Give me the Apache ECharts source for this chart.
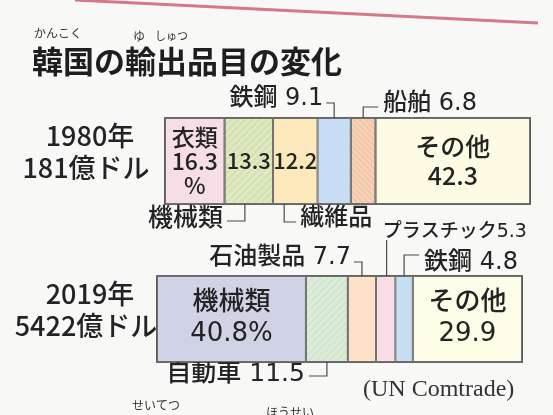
<!DOCTYPE html>
<html><head><meta charset="utf-8">
<script src="https://cdn.jsdelivr.net/npm/echarts@6/dist/echarts.min.js"></script>
<style>html,body{margin:0;padding:0;background:#f8f8f6}#c{width:553px;height:415px}</style>
</head><body><div id="c"></div>
<script>
// ---- data ----
const years = ['1980年', '2019年'];
const totals = ['181億ドル', '5422億ドル'];
const cats1980 = ['衣類', '機械類', '繊維品', '鉄鋼', '船舶', 'その他'];
const vals1980 = [16.3, 13.3, 12.2, 9.1, 6.8, 42.3];
const cats2019 = ['機械類', '自動車', '石油製品', 'プラスチック', '鉄鋼', 'その他'];
const vals2019 = [40.8, 11.5, 7.7, 5.3, 4.8, 29.9];
const titleText = '韓国の輸出品目の変化';
const sourceText = '(UN Comtrade)';

// ---- styles / layout ----
const JP = '"Noto Sans CJK JP","Noto Sans",sans-serif';
const MIX = '"DejaVu Sans","Noto Sans CJK JP",sans-serif';
const INK = '#232323';
const W = '500';
const colors1980 = ['#f6dde6', '#d6e4b4', '#fce8ba', '#c6ddf3', '#f3c8a9', '#fdfbe4'];
const colors2019 = ['#d0d3e6', '#d4e7d1', '#fde2c9', '#f8dde6', '#c8def3', '#fdfce6'];
const hatch = {symbol: 'rect', symbolSize: 1, color: 'rgba(255,255,255,0.45)', dashArrayX: [[1, 0]], dashArrayY: [1, 4], rotation: -Math.PI / 4};
const dots = {symbol: 'rect', symbolSize: 1, color: 'rgba(255,255,255,0.35)', dashArrayX: [[1, 0]], dashArrayY: [1, 3], rotation: Math.PI / 4};
const decals1980 = [null, hatch, null, null, dots, null];
const decals2019 = [null, hatch, null, null, null, null];
// inside label styles: [mode, fontSize, lineHeight, fontFamily]
const inside1980 = [['nameValPctStack', 23, 24, JP], ['val', 22, 26, JP], ['val', 22, 26, JP], null, null, ['nameVal', 25, 29, JP]];
const inside2019 = [['nameValPct', 26, 31, MIX], null, null, null, null, ['nameVal', 26, 31, MIX]];
const grids = [
  {left: 165, top: 118, width: 365, height: 86},
  {left: 157, top: 276, width: 365, height: 86}
];

function fmt(mode, name, v) {
  if (mode === 'nameValPctStack') return name + '\n' + v + '\n%';
  if (mode === 'val') return String(v);
  if (mode === 'nameVal') return name + '\n' + v;
  if (mode === 'nameValPct') return name + '\n' + v + '%';
  return '';
}

function mkSeries(gi, cats, vals, cols, decals, inside) {
  return cats.map((c, i) => ({
    type: 'bar', name: c, xAxisIndex: gi, yAxisIndex: gi, stack: 's' + gi,
    barWidth: '100%', silent: true,
    data: [vals[i]],
    itemStyle: Object.assign({color: cols[i], borderColor: '#707070', borderWidth: 1},
      decals[i] ? {decal: decals[i]} : {}),
    label: inside[i] ? {
      show: true, position: 'inside', color: INK, fontFamily: inside[i][3], fontWeight: W,
      fontSize: inside[i][1], lineHeight: inside[i][2],
      formatter: fmt(inside[i][0], c, vals[i])
    } : {show: false}
  }));
}

const chart = echarts.init(document.getElementById('c'), null, {renderer: 'canvas'});
chart.setOption({
  animation: false,
  backgroundColor: '#f8f8f6',
  grid: grids,
  xAxis: grids.map((g, i) => ({type: 'value', gridIndex: i, min: 0, max: 100, show: false})),
  yAxis: grids.map((g, i) => ({type: 'category', gridIndex: i, data: [years[i]], show: false})),
  series: mkSeries(0, cats1980, vals1980, colors1980, decals1980, inside1980)
    .concat(mkSeries(1, cats2019, vals2019, colors2019, decals2019, inside2019))
});

// ---- annotations (outside labels with leader lines) ----
// [segment index, side, text placement, anchor fraction within segment, font size]
const ann1980 = [
  [3, 'top', 'left', 0.5, 24],
  [4, 'top', 'right', 0.5, 24],
  [1, 'bottom', 'left', 0.42, 25],
  [2, 'bottom', 'right', 0.25, 24]
];
const ann2019 = [
  [2, 'top', 'left', 0.5, 24],
  [3, 'top', 'up', 0.55, 19],
  [4, 'top', 'right', 0.5, 24],
  [1, 'bottom', 'left', 0.5, 25]
];
function outsideText(cats, vals, i, gi) {
  if (gi === 1 && i === 3) return cats[i] + vals[i];
  if (gi === 0 && i <= 2) return cats[i];
  return cats[i] + ' ' + vals[i];
}

const gfx = [];
const lineStyle = {stroke: '#4a4a4a', lineWidth: 1.2, fill: null};
const txt = (t, x, y, align, size, fam) => ({type: 'text', x: x, y: y, silent: true,
  style: {text: t, fill: INK, font: W + ' ' + size + 'px ' + (fam || MIX), textAlign: align, textVerticalAlign: 'middle'}});

[[ann1980, cats1980, vals1980], [ann2019, cats2019, vals2019]].forEach(([anns, cats, vals], gi) => {
  const g = grids[gi];
  const top = g.top, bottom = g.top + g.height;
  anns.forEach(([i, side, place, frac, fs]) => {
    let start = 0;
    for (let k = 0; k < i; k++) start += vals[k];
    const ax = chart.convertToPixel({xAxisIndex: gi}, start + vals[i] * frac);
    const t = outsideText(cats, vals, i, gi);
    if (side === 'top') {
      if (place === 'left') {
        const ly = gi === 0 ? top - 15 : top - 14;
        gfx.push({type: 'polyline', silent: true, shape: {points: [[ax - 8, ly], [ax, ly], [ax, top + 6]]}, style: lineStyle});
        gfx.push(txt(t, ax - 11, gi === 0 ? top - 19 : top - 18, 'right', fs));
      } else if (place === 'right') {
        const ly = gi === 0 ? top - 11 : top - 21;
        gfx.push({type: 'polyline', silent: true, shape: {points: [[ax + 15, ly], [ax, ly], [ax, top + 6]]}, style: lineStyle});
        gfx.push(txt(t, ax + 20, gi === 0 ? top - 14 : top - 13, 'left', fs));
      } else {
        gfx.push({type: 'polyline', silent: true, shape: {points: [[ax, top - 36], [ax, top + 6]]}, style: lineStyle});
        gfx.push(txt(t, ax - 4, top - 44, 'left', fs));
      }
    } else {
      if (place === 'left') {
        const ly = gi === 0 ? bottom + 17 : bottom + 14;
        gfx.push({type: 'polyline', silent: true, shape: {points: [[ax, bottom - 6], [ax, ly], [ax - 18, ly]]}, style: lineStyle});
        gfx.push(txt(t, ax - 22, gi === 0 ? bottom + 15 : bottom + 12, 'right', fs));
      } else {
        const ly = bottom + 18;
        gfx.push({type: 'polyline', silent: true, shape: {points: [[ax, bottom - 6], [ax, ly], [ax + 12, ly]]}, style: lineStyle});
        gfx.push(txt(t, ax + 16, bottom + 15, 'left', fs));
      }
    }
  });
  // outer frame of the bar
  gfx.push({type: 'rect', silent: true, shape: {x: g.left, y: g.top, width: g.width, height: g.height},
    style: {fill: null, stroke: '#333', lineWidth: 1.6}});
  // row labels
  gfx.push(txt(years[gi], 90, top + 18, 'center', 27, JP));
  gfx.push(txt(totals[gi], 86, top + 50, 'center', 27, JP));
});

// title, furigana, source, decorative line
gfx.push({type: 'line', silent: true, shape: {x1: 75, y1: 0, x2: 538, y2: 23}, style: {stroke: '#d57888', lineWidth: 3}});
gfx.push({type: 'text', x: 32, y: 61, silent: true, style: {text: titleText, fill: '#1e1e1e', font: 'bold 31px ' + JP, textVerticalAlign: 'middle'}});
gfx.push({type: 'text', x: 34, y: 33, silent: true, style: {text: 'かんこく', fill: '#333', font: '12px ' + JP, textVerticalAlign: 'middle'}});
gfx.push({type: 'text', x: 133, y: 36, silent: true, style: {text: 'ゆ', fill: '#333', font: '12px ' + JP, textVerticalAlign: 'middle'}});
gfx.push({type: 'text', x: 155, y: 36, silent: true, style: {text: 'しゅつ', fill: '#333', font: '11px ' + JP, textVerticalAlign: 'middle'}});
gfx.push({type: 'text', x: 363, y: 390, silent: true, style: {text: sourceText, fill: '#333', font: '24px "Liberation Serif",serif', textVerticalAlign: 'middle'}});
gfx.push({type: 'text', x: 132, y: 405, silent: true, style: {text: 'せいてつ', fill: '#333', font: '12px ' + JP, textVerticalAlign: 'middle'}});
gfx.push({type: 'text', x: 266, y: 412, silent: true, style: {text: 'ほうせい', fill: '#333', font: '12px ' + JP, textVerticalAlign: 'middle'}});

chart.setOption({graphic: gfx});
</script></body></html>
